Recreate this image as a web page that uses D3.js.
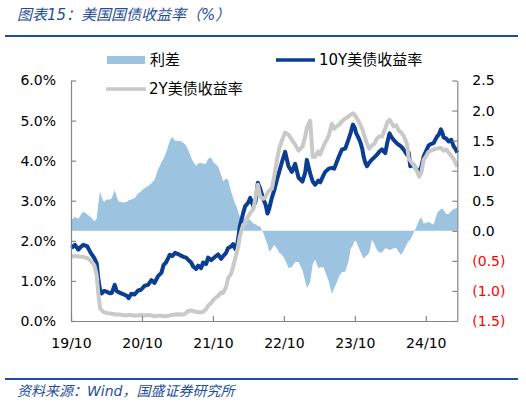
<!DOCTYPE html>
<html>
<head>
<meta charset="utf-8">
<script src="https://cdn.jsdelivr.net/npm/d3@7"></script>
<style>
  body { margin: 0; background: #fff; }
</style>
</head>
<body>
<div id="chart"></div>
<script>
// decimal years (19/10 = 2019.75)
const dates = [
  2019.757, 2019.806, 2019.853, 2019.895, 2019.923, 2019.980, 2020.028, 2020.079, 2020.112, 2020.135,
  2020.159, 2020.183, 2020.215, 2020.254, 2020.296, 2020.324, 2020.366, 2020.392, 2020.417, 2020.483,
  2020.536, 2020.561, 2020.600, 2020.646, 2020.695, 2020.737, 2020.789, 2020.836, 2020.883, 2020.928,
  2020.977, 2021.024, 2021.055, 2021.090, 2021.142, 2021.175, 2021.217, 2021.259, 2021.301, 2021.337,
  2021.372, 2021.400, 2021.443, 2021.471, 2021.513, 2021.541, 2021.584, 2021.612, 2021.654, 2021.682,
  2021.725, 2021.753, 2021.795, 2021.823, 2021.866, 2021.894, 2021.936, 2021.964, 2022.007, 2022.035,
  2022.063, 2022.084, 2022.105, 2022.129, 2022.176, 2022.204, 2022.246, 2022.275, 2022.321, 2022.352,
  2022.383, 2022.416, 2022.462, 2022.493, 2022.519, 2022.543, 2022.581, 2022.613, 2022.651, 2022.684,
  2022.722, 2022.768, 2022.815, 2022.863, 2022.909, 2022.956, 2023.012, 2023.050, 2023.074, 2023.121,
  2023.156, 2023.191, 2023.234, 2023.262, 2023.304, 2023.332, 2023.382, 2023.427, 2023.459, 2023.498,
  2023.530, 2023.568, 2023.615, 2023.661, 2023.692, 2023.723, 2023.749, 2023.770, 2023.798, 2023.826,
  2023.854, 2023.873, 2023.897, 2023.921, 2023.953, 2023.991, 2024.024, 2024.062, 2024.094, 2024.132,
  2024.179, 2024.207, 2024.239, 2024.263, 2024.296, 2024.334, 2024.366, 2024.404, 2024.437, 2024.485,
  2024.510, 2024.531, 2024.574, 2024.602, 2024.630, 2024.658, 2024.687, 2024.719, 2024.757, 2024.789,
  2024.828, 2024.860, 2024.908, 2024.933, 2024.962, 2024.983, 2025.001, 2025.039, 2025.072, 2025.110,
  2025.142, 2025.166, 2025.194
];

// 10Y美债收益率 (%)
const yield10y = [
  1.82, 1.90, 1.78, 1.86, 1.90, 1.86, 1.70, 1.57, 1.44, 1.06,
  0.78, 0.69, 0.75, 0.73, 0.69, 0.70, 0.90, 0.75, 0.72, 0.67,
  0.63, 0.57, 0.68, 0.66, 0.76, 0.78, 0.88, 0.90, 1.02, 0.95,
  1.12, 1.20, 1.40, 1.46, 1.65, 1.62, 1.70, 1.67, 1.63, 1.60,
  1.58, 1.53, 1.46, 1.36, 1.30, 1.38, 1.32, 1.46, 1.42, 1.58,
  1.52, 1.56, 1.62, 1.66, 1.55, 1.62, 1.70, 1.82, 1.86, 1.92,
  1.80, 1.82, 2.05, 2.36, 2.69, 2.86, 2.95, 3.07, 2.86, 3.00,
  3.45, 3.30, 3.03, 2.90, 2.68, 2.80, 3.08, 3.25, 3.52, 3.72,
  3.96, 4.22, 3.86, 3.72, 3.92, 3.58, 3.48, 3.70, 4.02, 3.68,
  3.48, 3.40, 3.50, 3.46, 3.62, 3.72, 3.80, 3.82, 3.80, 3.98,
  4.12, 4.28, 4.30, 4.53, 4.70, 4.90, 4.82, 4.68, 4.58, 4.47,
  4.30, 4.11, 3.95, 3.86, 3.95, 4.03, 4.08, 4.15, 4.22, 4.28,
  4.19, 4.45, 4.68, 4.60, 4.52, 4.45, 4.40, 4.35, 4.28, 4.15,
  4.20, 3.86, 3.90, 3.82, 3.75, 3.72, 3.85, 4.10, 4.25, 4.38,
  4.42, 4.44, 4.60, 4.65, 4.78, 4.70, 4.58, 4.55, 4.48, 4.52,
  4.36, 4.30, 4.20
];

// 2Y美债收益率 (%)
const yield2y = [
  1.61, 1.62, 1.61, 1.60, 1.60, 1.57, 1.50, 1.39, 1.15, 0.68,
  0.32, 0.27, 0.22, 0.20, 0.19, 0.18, 0.17, 0.16, 0.16, 0.15,
  0.14, 0.15, 0.15, 0.13, 0.14, 0.15, 0.14, 0.15, 0.14, 0.12,
  0.13, 0.13, 0.12, 0.12, 0.14, 0.15, 0.16, 0.17, 0.16, 0.16,
  0.20, 0.25, 0.26, 0.25, 0.23, 0.22, 0.22, 0.23, 0.30, 0.38,
  0.45, 0.52, 0.59, 0.62, 0.71, 0.70, 0.85, 1.07, 1.18, 1.36,
  1.55, 1.70, 1.85, 2.11, 2.40, 2.44, 2.61, 2.69, 2.80, 3.10,
  3.40, 3.10, 3.05, 3.10, 3.20, 3.25, 3.30, 3.60, 4.00, 4.30,
  4.50, 4.70, 4.65, 4.52, 4.40, 4.25, 4.35, 4.60, 4.82, 5.00,
  4.10, 4.10, 4.23, 4.15, 4.35, 4.45, 4.62, 4.92, 4.80, 4.86,
  4.90, 4.98, 5.05, 5.10, 5.15, 5.18, 5.14, 5.08, 5.00, 4.90,
  4.80, 4.68, 4.55, 4.42, 4.30, 4.38, 4.42, 4.55, 4.60, 4.60,
  4.80, 4.96, 5.02, 4.95, 4.86, 4.88, 4.76, 4.70, 4.62, 4.42,
  4.05, 4.00, 3.90, 3.82, 3.72, 3.60, 3.70, 4.02, 4.12, 4.22,
  4.25, 4.28, 4.30, 4.31, 4.32, 4.28, 4.25, 4.28, 4.20, 4.12,
  4.05, 3.95, 3.85
];

// 利差 (right axis)
const spread = [
  0.18, 0.23, 0.20, 0.28, 0.32, 0.27, 0.23, 0.16, 0.20, 0.45,
  0.66, 0.55, 0.48, 0.52, 0.52, 0.54, 0.68, 0.58, 0.49, 0.47,
  0.48, 0.51, 0.52, 0.54, 0.62, 0.66, 0.71, 0.74, 0.79, 0.85,
  1.02, 1.14, 1.20, 1.30, 1.50, 1.56, 1.50, 1.50, 1.49, 1.46,
  1.42, 1.35, 1.22, 1.15, 1.08, 1.12, 1.13, 1.11, 1.12, 1.20,
  1.22, 1.15, 1.10, 1.07, 0.93, 0.82, 0.87, 0.85, 0.65, 0.55,
  0.45, 0.40, 0.32, 0.24, 0.17, 0.22, 0.20, 0.18, 0.12, 0.11,
  0.08, 0.07, -0.04, -0.15, -0.22, -0.35, -0.30, -0.23, -0.29, -0.36,
  -0.40, -0.48, -0.62, -0.60, -0.52, -0.52, -0.65, -0.83, -0.95, -0.85,
  -0.55, -0.48, -0.62, -0.61, -0.60, -0.68, -0.84, -1.05, -0.95, -0.85,
  -0.75, -0.69, -0.68, -0.50, -0.30, -0.24, -0.16, -0.18, -0.26, -0.34,
  -0.42, -0.46, -0.43, -0.41, -0.36, -0.15, -0.22, -0.32, -0.36, -0.36,
  -0.29, -0.30, -0.32, -0.31, -0.29, -0.28, -0.35, -0.40, -0.33, -0.22,
  -0.17, -0.15, -0.05, 0.02, 0.10, 0.18, 0.22, 0.12, 0.13, 0.15,
  0.12, 0.10, 0.29, 0.33, 0.36, 0.37, 0.34, 0.28, 0.28, 0.33,
  0.36, 0.37, 0.38
];

const leftTicks = [0, 1, 2, 3, 4, 5, 6];
const rightTicks = [-1.5, -1, -0.5, 0, 0.5, 1, 1.5, 2, 2.5];
const xTicks = [2019.75, 2020.75, 2021.75, 2022.75, 2023.75, 2024.75];
const xTickLabels = ['19/10', '20/10', '21/10', '22/10', '23/10', '24/10'];
const xEnd = 2025.194;

const drawChart = () => {
  let width = 526;
  let height = 404;
  let plot = { left: 71, right: 457.3, top: 80.5, bottom: 321 };
  let fontFamily = '"DejaVu Sans", "Noto Sans CJK SC", sans-serif';
  let titleColor = '#1F4E99';
  let axisColor = '#868686';
  let areaColor = '#9CC3E0';
  let color10 = '#0B3D91';
  let color2 = '#C9C9C9';

  let svg = d3
    .select('#chart')
    .append('svg')
    .attr('width', width)
    .attr('height', height)
    .style('font-family', fontFamily);

  svg.append('rect').attr('width', width).attr('height', height).attr('fill', '#fff');

  // Title and rules
  svg
    .append('text')
    .attr('x', 17)
    .attr('y', 20)
    .attr('font-size', 15)
    .attr('font-style', 'italic')
    .attr('fill', titleColor)
    .text('图表15：美国国债收益率（%）');

  svg
    .append('line')
    .attr('x1', 5)
    .attr('x2', 518)
    .attr('y1', 36)
    .attr('y2', 36)
    .attr('stroke', titleColor)
    .attr('stroke-width', 2);

  svg
    .append('line')
    .attr('x1', 5)
    .attr('x2', 518)
    .attr('y1', 379)
    .attr('y2', 379)
    .attr('stroke', titleColor)
    .attr('stroke-width', 2);

  svg
    .append('text')
    .attr('x', 17)
    .attr('y', 396)
    .attr('font-size', 14)
    .attr('font-style', 'italic')
    .attr('fill', titleColor)
    .text('资料来源：Wind，国盛证券研究所');

  // Scales
  let x = d3.scaleLinear().domain([xTicks[0], xEnd]).range([plot.left, plot.right]);
  let yLeft = d3.scaleLinear().domain([0, 6]).range([plot.bottom, plot.top]);
  let yRight = d3.scaleLinear().domain([-1.5, 2.5]).range([plot.bottom, plot.top]);

  let rows = dates.map((t, i) => ({ t: t, y10: yield10y[i], y2: yield2y[i], s: spread[i] }));

  // Spread area
  let area = d3
    .area()
    .x((d) => x(d.t))
    .y0(yRight(0))
    .y1((d) => yRight(d.s));

  svg.append('path').datum(rows).attr('d', area).attr('fill', areaColor);

  // Yield lines
  let line10 = d3
    .line()
    .x((d) => x(d.t))
    .y((d) => yLeft(d.y10));
  let line2 = d3
    .line()
    .x((d) => x(d.t))
    .y((d) => yLeft(d.y2));

  svg
    .append('path')
    .datum(rows)
    .attr('d', line10)
    .attr('fill', 'none')
    .attr('stroke', color10)
    .attr('stroke-width', 4)
    .attr('stroke-linejoin', 'round');

  svg
    .append('path')
    .datum(rows)
    .attr('d', line2)
    .attr('fill', 'none')
    .attr('stroke', color2)
    .attr('stroke-width', 4)
    .attr('stroke-linejoin', 'round');

  // Axes
  let leftAxis = svg
    .append('g')
    .attr('transform', `translate(${plot.left},0)`)
    .call(
      d3
        .axisLeft(yLeft)
        .tickValues(leftTicks)
        .tickSize(-5)
        .tickSizeOuter(0)
        .tickPadding(15)
        .tickFormat((d) => d3.format('.1f')(d) + '%')
    );

  let rightAxis = svg
    .append('g')
    .attr('transform', `translate(${plot.right},0)`)
    .call(
      d3
        .axisRight(yRight)
        .tickValues(rightTicks)
        .tickSize(-5)
        .tickSizeOuter(0)
        .tickPadding(15)
        .tickFormat((d) => (d < 0 ? '(' + d3.format('.1f')(-d) + ')' : d3.format('.1f')(d)))
    );

  let bottomAxis = svg
    .append('g')
    .attr('transform', `translate(0,${plot.bottom})`)
    .call(
      d3
        .axisBottom(x)
        .tickValues(xTicks)
        .tickSize(-5)
        .tickSizeOuter(0)
        .tickPadding(17)
        .tickFormat((d, i) => xTickLabels[i])
    );

  [leftAxis, rightAxis, bottomAxis].forEach((g) => {
    g.attr('font-family', fontFamily).attr('font-size', 14);
    g.select('.domain').attr('stroke', axisColor).attr('stroke-width', 1.2);
    g.selectAll('.tick line').attr('stroke', axisColor).attr('stroke-width', 1.2);
    g.selectAll('.tick text').attr('fill', '#000');
  });

  rightAxis.selectAll('.tick text').attr('fill', (d) => (d < 0 ? '#FF0000' : '#000'));

  // Legend
  let legend = svg.append('g').attr('font-size', 15);

  legend
    .append('rect')
    .attr('x', 107)
    .attr('y', 56)
    .attr('width', 38)
    .attr('height', 8)
    .attr('fill', areaColor);
  legend
    .append('text')
    .attr('x', 150)
    .attr('y', 60)
    .attr('dominant-baseline', 'central')
    .text('利差');

  legend
    .append('line')
    .attr('x1', 276)
    .attr('x2', 315)
    .attr('y1', 60)
    .attr('y2', 60)
    .attr('stroke', color10)
    .attr('stroke-width', 3.5);
  legend
    .append('text')
    .attr('x', 319)
    .attr('y', 60)
    .attr('dominant-baseline', 'central')
    .text('10Y美债收益率');

  legend
    .append('line')
    .attr('x1', 106)
    .attr('x2', 146)
    .attr('y1', 89)
    .attr('y2', 89)
    .attr('stroke', color2)
    .attr('stroke-width', 3.5);
  legend
    .append('text')
    .attr('x', 149)
    .attr('y', 89)
    .attr('dominant-baseline', 'central')
    .text('2Y美债收益率');
};

drawChart();
</script>
</body>
</html>
